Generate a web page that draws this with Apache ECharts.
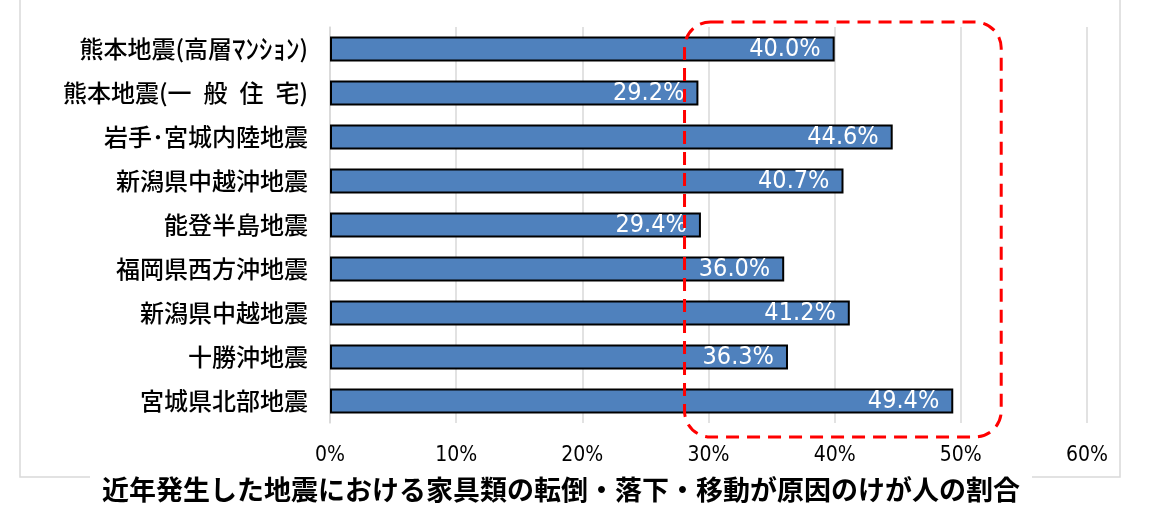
<!DOCTYPE html>
<html>
<head>
<meta charset="utf-8">
<script src="https://cdn.jsdelivr.net/npm/echarts@6/dist/echarts.min.js"></script>
<style>
  html, body { margin: 0; padding: 0; background: #fff; }
  #chart { width: 1173px; height: 514px; }
</style>
</head>
<body>
<div id="chart"></div>
<script>
// 地震名（上から順）
var quakes = [
  '熊本地震(高層ﾏﾝｼｮﾝ)',
  '熊本地震(一\u2002般\u2002住\u2002宅)',
  '岩手･宮城内陸地震',
  '新潟県中越沖地震',
  '能登半島地震',
  '福岡県西方沖地震',
  '新潟県中越地震',
  '十勝沖地震',
  '宮城県北部地震'
];
// けが人の割合(%)
var ratio = [40.0, 29.2, 44.6, 40.7, 29.4, 36.0, 41.2, 36.3, 49.4];
var xTicks = [0, 10, 20, 30, 40, 50, 60];
// 赤い点線の囲み（x は % の値）
var boxFrom = 28.1, boxTo = 53.2;

var titleText = '近年発生した地震における家具類の転倒・落下・移動が原因のけが人の割合';
var narrow = '"DejaVu Sans Condensed", "Liberation Sans Narrow", sans-serif';
var jp = '"Noto Sans CJK JP", sans-serif';

var myChart = echarts.init(document.getElementById('chart'));

var option = {
  backgroundColor: '#fff',
  animation: false,
  title: {
    text: titleText,
    left: 90,
    top: 470,
    padding: [6, 12, 2, 12],
    backgroundColor: '#fff',
    textStyle: {
      fontFamily: jp,
      fontSize: 27,
      fontWeight: 'bold',
      color: '#000'
    },
    z: 10
  },
  grid: {
    left: 330,
    right: 86,
    top: 27,
    bottom: 91
  },
  xAxis: {
    type: 'value',
    min: xTicks[0],
    max: xTicks[xTicks.length - 1],
    interval: 10,
    axisLine: { show: false },
    axisTick: { show: false },
    axisLabel: {
      formatter: '{value}%',
      margin: 22,
      fontFamily: narrow,
      fontSize: 21,
      color: '#000'
    },
    splitLine: { lineStyle: { color: '#d9d9d9', width: 1.5 } }
  },
  yAxis: {
    type: 'category',
    data: quakes,
    inverse: true,
    axisLine: { show: true, lineStyle: { color: '#d9d9d9', width: 1.5 } },
    axisTick: { show: false },
    axisLabel: {
      margin: 22,
      fontFamily: jp,
      fontSize: 24,
      fontWeight: 500,
      color: '#000',
      // 半角カナは少し大きめに
      formatter: function (v) {
        return v.replace('ﾏﾝｼｮﾝ', '{k|ﾏﾝｼｮﾝ}');
      },
      rich: {
        k: { fontFamily: jp, fontSize: 27, fontWeight: 500, color: '#000' }
      }
    }
  },
  series: [{
    type: 'bar',
    data: ratio,
    barWidth: 25,
    itemStyle: {
      color: '#4f81bd',
      borderColor: '#000',
      borderWidth: 2
    },
    label: {
      show: true,
      position: 'insideRight',
      distance: 14,
      formatter: function (p) { return p.value.toFixed(1) + '%'; },
      fontFamily: narrow,
      fontSize: 25,
      color: '#fff'
    }
  }]
};
myChart.setOption(option);

// 外枠と赤い点線の囲み
var x1 = myChart.convertToPixel({ xAxisIndex: 0 }, boxFrom);
var x2 = myChart.convertToPixel({ xAxisIndex: 0 }, boxTo);
myChart.setOption({
  graphic: [{
    type: 'rect',
    z: 0,
    silent: true,
    shape: { x: 20, y: -10, width: 1100, height: 487 },
    style: { fill: 'none', stroke: '#d9d9d9', lineWidth: 1.5 }
  }, {
    type: 'rect',
    z: 100,
    silent: true,
    shape: { x: x1, y: 22, width: x2 - x1, height: 415, r: 26 },
    style: { fill: 'none', stroke: '#ff0000', lineWidth: 3, lineDash: [13, 8] }
  }]
});
</script>
</body>
</html>
